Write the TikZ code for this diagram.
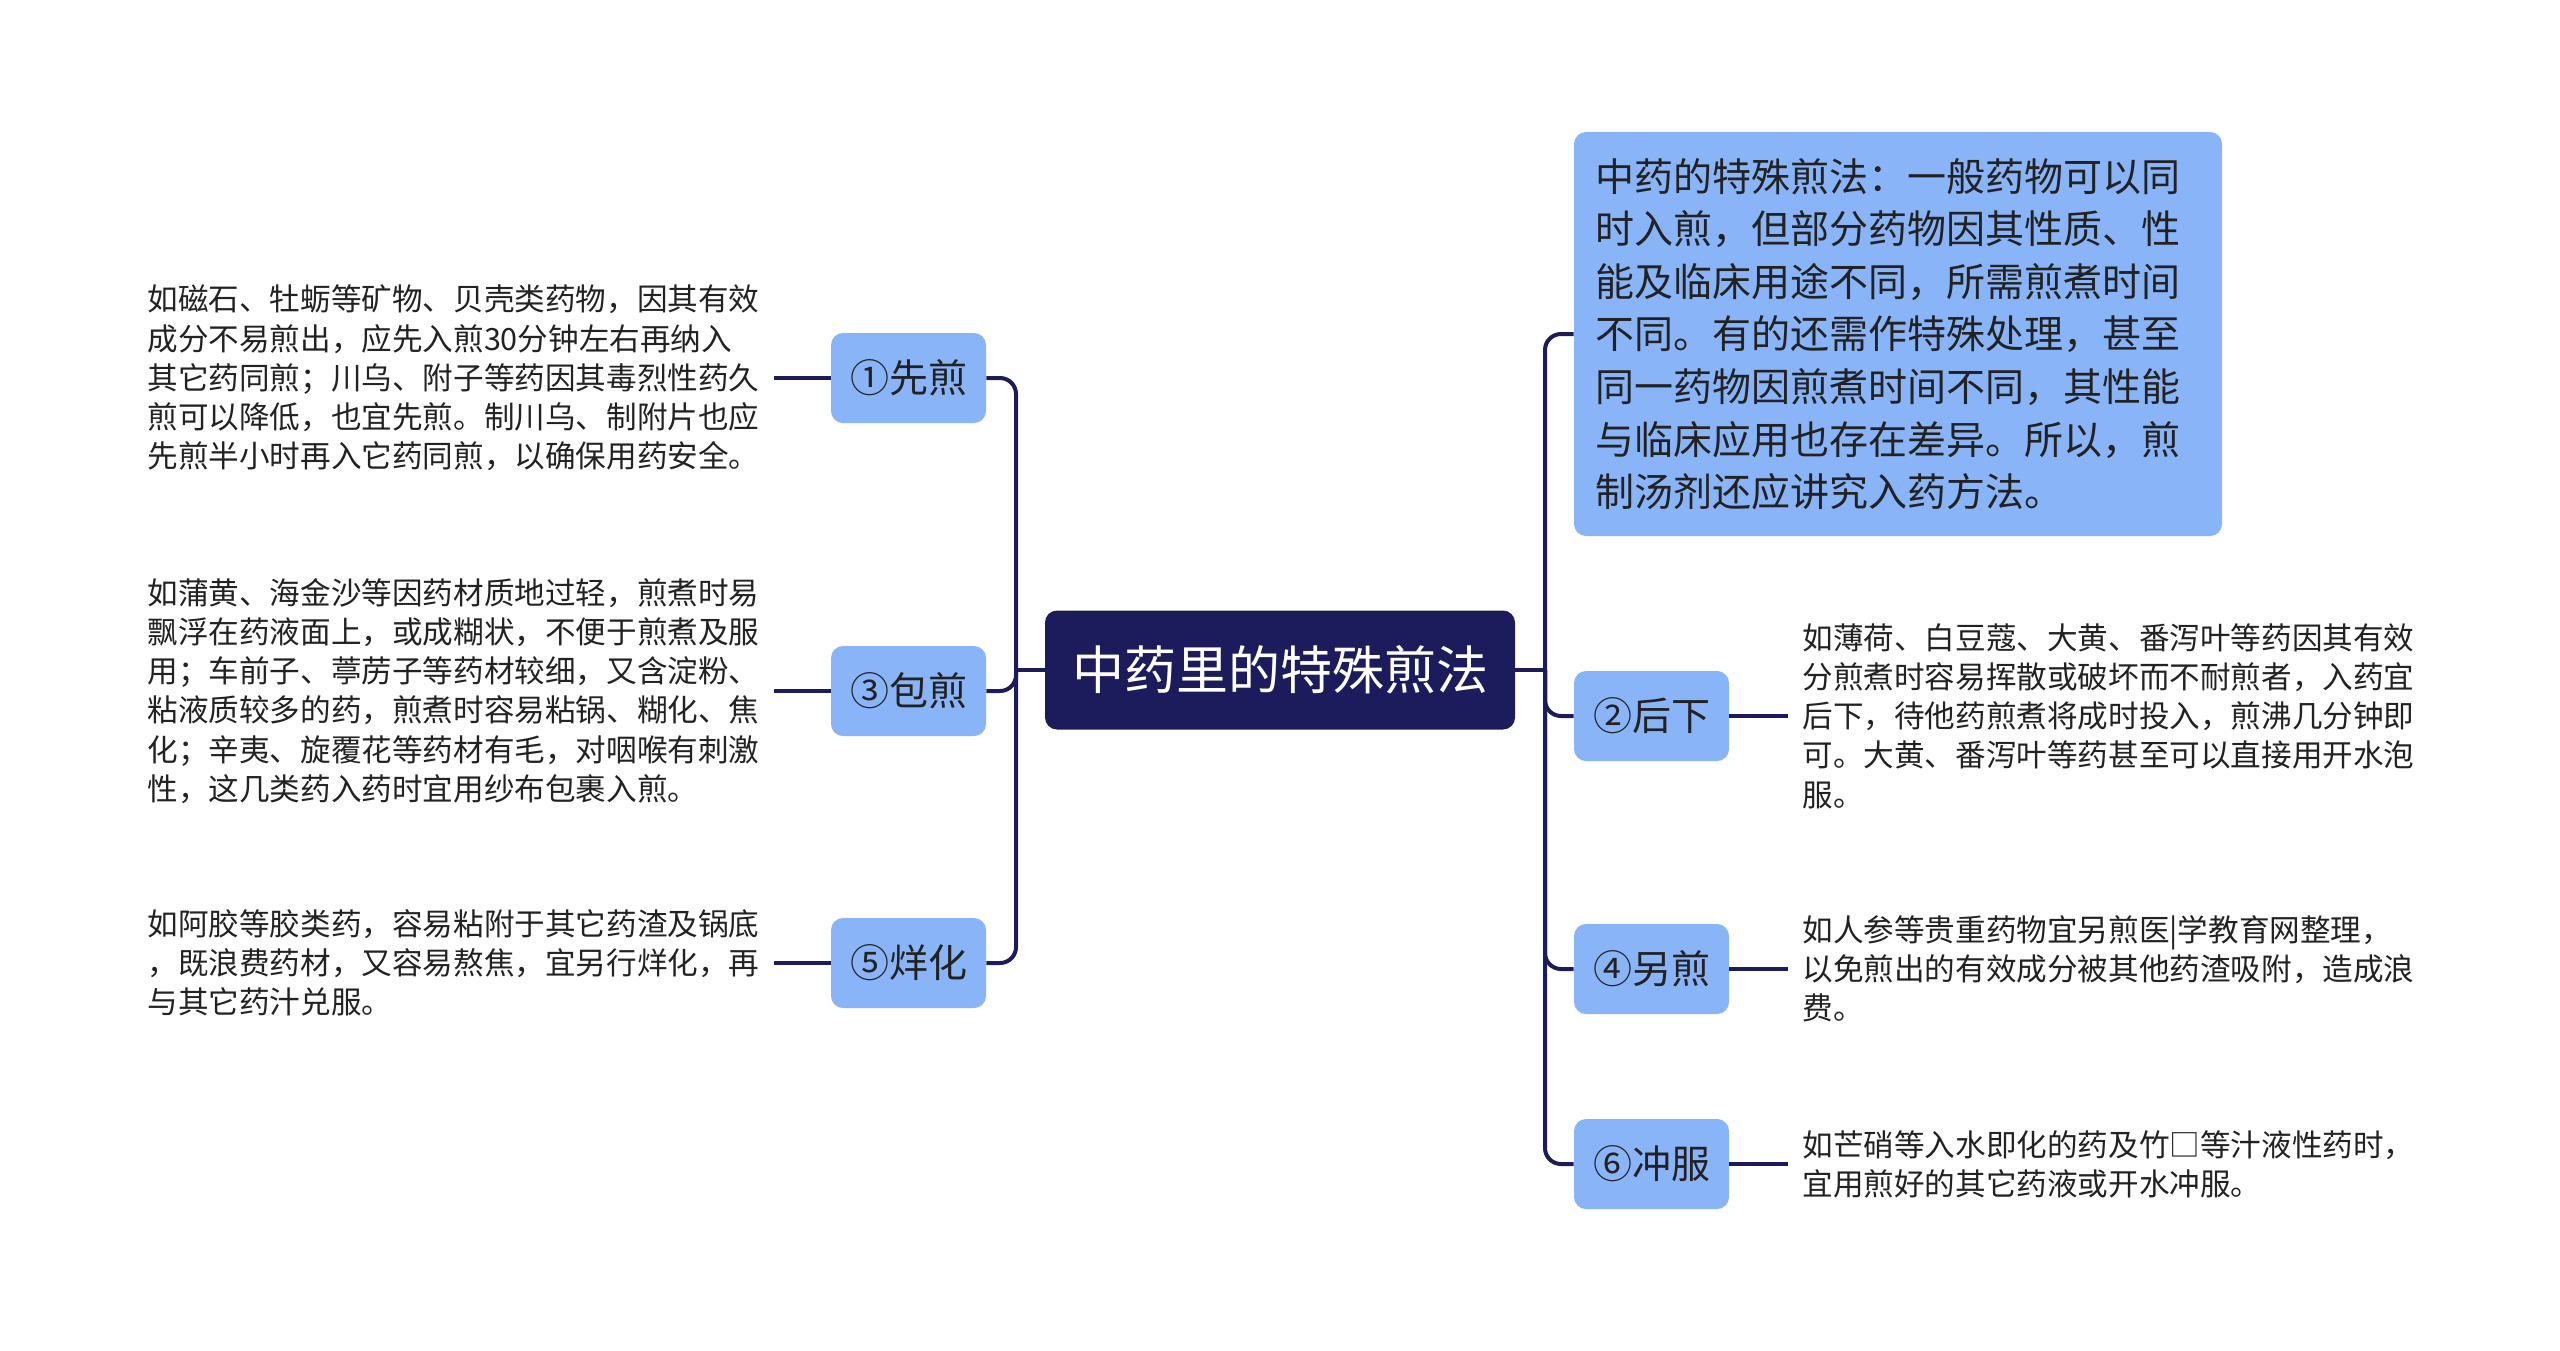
\documentclass[tikz,border=0pt]{standalone}
\usepackage{fontspec}
\setmainfont{Noto Sans CJK SC}
\definecolor{navy}{HTML}{1C1B5C}
\definecolor{bblue}{HTML}{8AB4F8}
\definecolor{txt}{HTML}{222222}
\begin{document}
\begin{tikzpicture}[x=0.5pt,y=-0.5pt,
 conn/.style={draw=navy, line width=2pt},
 rootbox/.style={fill=navy, text=white, rounded corners=6pt, minimum width=235pt, minimum height=59.5pt, inner sep=0pt, font=\fontsize{26}{30}\selectfont},
 branch/.style={fill=bblue, text=txt, rounded corners=6pt, minimum width=77.5pt, minimum height=45pt, inner sep=0pt, font=\fontsize{19.5}{24}\selectfont},
 leaf/.style={anchor=west, align=left, text=txt, inner xsep=7pt, inner ysep=0pt, font=\fontsize{15.3}{19.6}\selectfont},
 topbox/.style={fill=bblue, text=txt, rounded corners=6pt, minimum width=324pt, minimum height=202pt, text width=303pt, align=left, inner xsep=10.5pt, inner ysep=0pt, font=\fontsize{19.5}{26.3}\selectfont},
]
\path[use as bounding box, fill=white] (0,0) rectangle (2560,1350);

\node[rootbox] (root) at (1280,670) {中药里的特殊煎法};

\node[branch] (b1) at (908.5,378) {①先煎};
\node[branch] (b3) at (908.5,691) {③包煎};
\node[branch] (b5) at (908.5,963) {⑤烊化};

\node[topbox] (t0) at (1898,334) {中药的特殊煎法：一般药物可以同\\时入煎，但部分药物因其性质、性\\能及临床用途不同，所需煎煮时间\\不同。有的还需作特殊处理，甚至\\同一药物因煎煮时间不同，其性能\\与临床应用也存在差异。所以，煎\\制汤剂还应讲究入药方法。};
\node[branch] (b2) at (1651.5,716) {②后下};
\node[branch] (b4) at (1651.5,969) {④另煎};
\node[branch] (b6) at (1651.5,1164) {⑥冲服};

\node[leaf] (l1) at (133,378) {如磁石、牡蛎等矿物、贝壳类药物，因其有效\\成分不易煎出，应先入煎30分钟左右再纳入\\其它药同煎；川乌、附子等药因其毒烈性药久\\煎可以降低，也宜先煎。制川乌、制附片也应\\先煎半小时再入它药同煎，以确保用药安全。};
\node[leaf] (l3) at (133,691) {如蒲黄、海金沙等因药材质地过轻，煎煮时易\\飘浮在药液面上，或成糊状，不便于煎煮及服\\用；车前子、葶苈子等药材较细，又含淀粉、\\粘液质较多的药，煎煮时容易粘锅、糊化、焦\\化；辛夷、旋覆花等药材有毛，对咽喉有刺激\\性，这几类药入药时宜用纱布包裹入煎。};
\node[leaf] (l5) at (133,963) {如阿胶等胶类药，容易粘附于其它药渣及锅底\\，既浪费药材，又容易熬焦，宜另行烊化，再\\与其它药汁兑服。};

\node[leaf] (l2) at (1788,716) {如薄荷、白豆蔻、大黄、番泻叶等药因其有效\\分煎煮时容易挥散或破坏而不耐煎者，入药宜\\后下，待他药煎煮将成时投入，煎沸几分钟即\\可。大黄、番泻叶等药甚至可以直接用开水泡\\服。};
\node[leaf] (l4) at (1788,969) {如人参等贵重药物宜另煎医|学教育网整理，\\以免煎出的有效成分被其他药渣吸附，造成浪\\费。};
\node[leaf] (l6) at (1788,1164) {如芒硝等入水即化的药及竹□等汁液性药时，\\宜用煎好的其它药液或开水冲服。};

\coordinate (lt) at (1016,670);
\coordinate (rt) at (1545,670);

\draw[conn] (lt) -- (root.west);
\draw[conn] (root.east) -- (rt);
\foreach \b in {b1,b3,b5}{
  \draw[conn, rounded corners=8pt] (\b.east) -- (\b.east -| lt) -- (lt);
}
\foreach \b in {t0,b2,b4,b6}{
  \draw[conn, rounded corners=8pt] (rt) -- (rt |- \b.west) -- (\b.west);
}
\draw[conn] (b1.west) -- (l1.east);
\draw[conn] (b3.west) -- (l3.east);
\draw[conn] (b5.west) -- (l5.east);
\draw[conn] (b2.east) -- (l2.west);
\draw[conn] (b4.east) -- (l4.west);
\draw[conn] (b6.east) -- (l6.west);
\end{tikzpicture}
\end{document}
